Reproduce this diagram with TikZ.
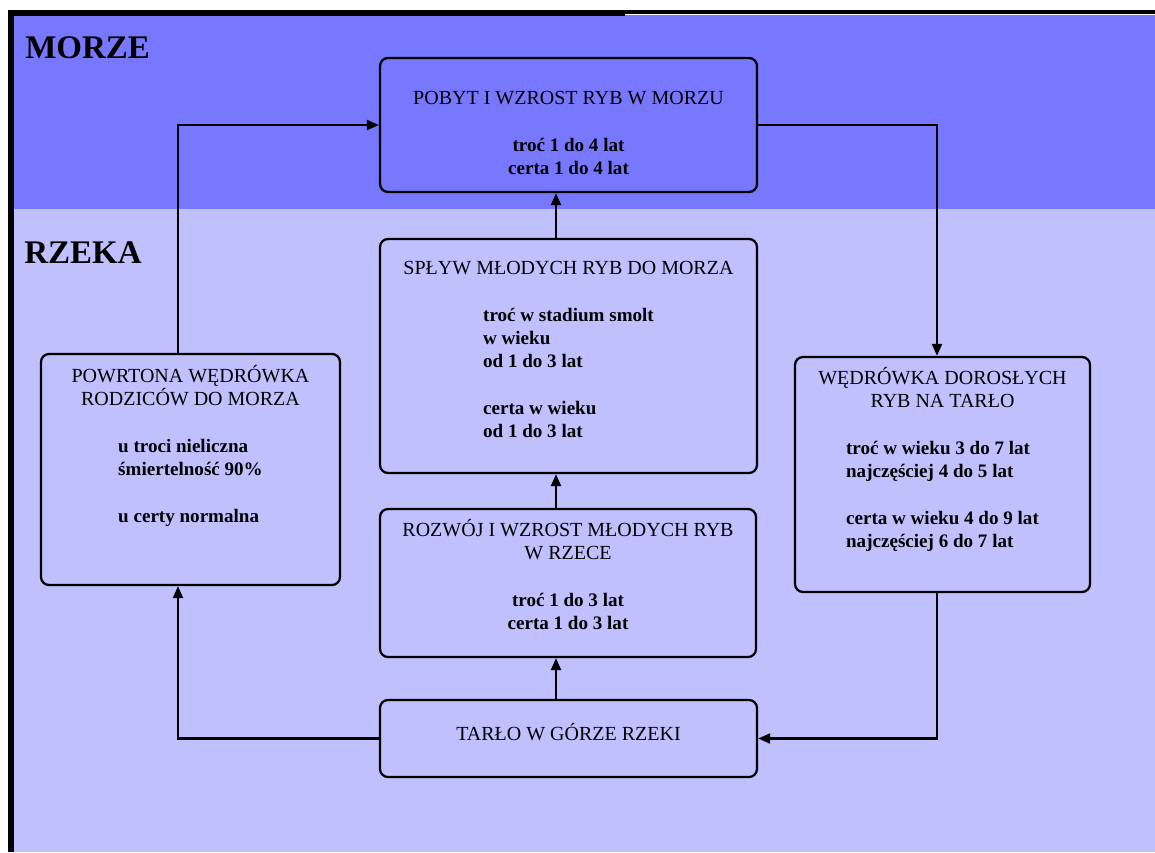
\documentclass[tikz,border=0pt]{standalone}
\usepackage{fontspec}
\setmainfont{Liberation Serif}
\usepackage{array}
\usepackage{tikz}
\usetikzlibrary{arrows.meta,positioning}
\definecolor{morze}{RGB}{120,120,255}
\definecolor{rzeka}{RGB}{192,192,255}
\newcommand{\bodyfont}{\fontsize{14.3}{17.5}\selectfont\bfseries}
\newcommand{\bodyc}[1]{\begin{tabular}[t]{@{}>{\bodyfont}c@{}}#1\end{tabular}}
\newcommand{\bodyl}[1]{\begin{tabular}[t]{@{}>{\bodyfont}l@{}}#1\end{tabular}}

\begin{document}
\begin{tikzpicture}[x=0.75pt,y=-0.75pt,>={Triangle[length=9pt,width=7.5pt]},
    stage/.style={draw,rounded corners=6pt,line width=1.7pt,inner sep=0pt},
    boxsize/.style 2 args={minimum width=#1*0.75pt,minimum height=#2*0.75pt},
    stage text/.style={inner sep=0pt,align=center,font=\fontsize{15}{17.5}\selectfont},
    zone/.style={inner sep=0pt,anchor=base west,font=\fontsize{24.75}{28}\selectfont\bfseries},
    link/.style={->,line width=1.6pt}]
    \useasboundingbox (0,0) rectangle (1155,852);
    \fill[morze] (14,15) rectangle (1155,209);
    \fill[rzeka] (14,209) rectangle (1155,852);
    \fill (8,10) rectangle (625,16);
    \fill (625,10) rectangle (1155,14);
    \fill (8,10) rectangle (14,852);

    \node[zone] (morze) at (25,59) {MORZE};
    \node[zone] (rzeka) at (24,263) {RZEKA};

    \node[stage,boxsize={377}{134}] (sea) at (568.5,125) {};
    \node[stage,boxsize={377}{234}] (splyw) at (568.5,356) {};
    \node[stage,boxsize={376}{148}] (rozwoj) at (568,583) {};
    \node[stage,boxsize={377}{77}] (tarlo) at (568.5,738.5) {};
    \node[stage,boxsize={299}{231}] (powrot) at (190.5,469.5) {};
    \node[stage,boxsize={295}{235}] (wedrowka) at (942.5,474.5) {};

    \node[stage text,below=25.5pt of sea.north] (seatext)
      {POBYT I WZROST RYB W MORZU\\[17.5pt]\bodyc{troć 1 do 4 lat\\certa 1 do 4 lat}};
    \node[stage text,below=17.25pt of splyw.north] (splywtext)
      {SPŁYW MŁODYCH RYB DO MORZA\\[17.5pt]\bodyl{troć w stadium smolt\\w wieku\\od 1 do 3 lat\\[17.5pt]certa w wieku\\od 1 do 3 lat}};
    \node[stage text,below=8.25pt of rozwoj.north] (rozwojtext)
      {ROZWÓJ I WZROST MŁODYCH RYB\\W RZECE\\[17.5pt]\bodyc{troć 1 do 3 lat\\certa 1 do 3 lat}};
    \node[stage text,below=18pt of tarlo.north] (tarlotext) {TARŁO W GÓRZE RZEKI};
    \node[stage text,below=9pt of powrot.north] (powrottext)
      {POWRTONA WĘDRÓWKA\\RODZICÓW DO MORZA\\[17.5pt]\bodyl{u troci nieliczna\\śmiertelność 90\%\\[17.5pt]u certy normalna}};
    \node[stage text,below=8.25pt of wedrowka.north] (wedrowkatext)
      {WĘDRÓWKA DOROSŁYCH\\RYB NA TARŁO\\[17.5pt]\bodyl{troć w wieku 3 do 7 lat\\najczęściej 4 do 5 lat\\[17.5pt]certa w wieku 4 do 9 lat\\najczęściej 6 do 7 lat}};

    \coordinate (mid) at (556,0);
    \coordinate (lx) at (178,0);
    \coordinate (rx) at (937,0);
    \draw[link] (tarlo.north -| mid) -- (rozwoj.south -| mid);
    \draw[link] (rozwoj.north -| mid) -- (splyw.south -| mid);
    \draw[link] (splyw.north -| mid) -- (sea.south -| mid);
    \draw[link] (sea.east) -| (wedrowka.north -| rx);
    \draw[link] (wedrowka.south -| rx) |- (tarlo.east);
    \draw[link] (tarlo.west) -| (powrot.south -| lx);
    \draw[link] (powrot.north -| lx) |- (sea.west);
\end{tikzpicture}
\end{document}
